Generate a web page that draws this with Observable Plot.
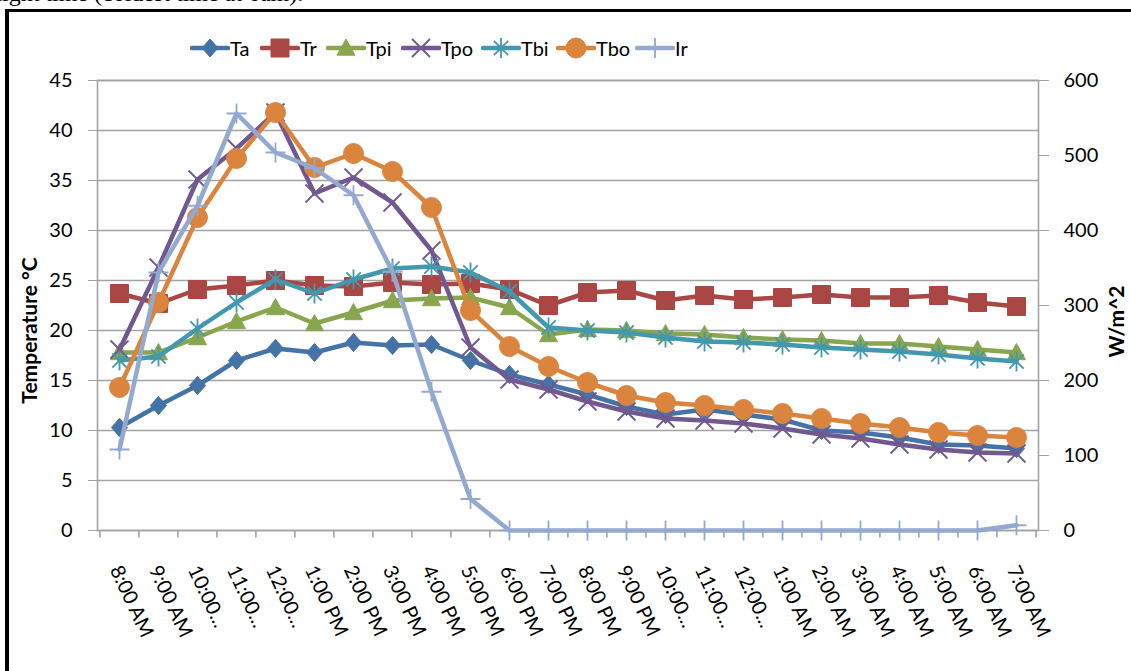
<!DOCTYPE html>
<html><head><meta charset="utf-8">
<script src="https://cdn.jsdelivr.net/npm/d3@7"></script>
<script src="https://cdn.jsdelivr.net/npm/@observablehq/plot@0.6"></script>
<style>
html,body{margin:0;padding:0;background:#fff;}
body{width:1131px;height:671px;overflow:hidden;position:relative;font-family:Lato,"Open Sans",sans-serif;}
#note{position:absolute;left:-10px;top:-20px;font-family:"Liberation Serif",serif;font-size:24px;white-space:nowrap;color:#000;}
#box{position:absolute;left:5px;top:9px;width:1140px;height:700px;border-left:4px solid #000;border-top:3px solid #000;box-sizing:border-box;}
#chart{position:absolute;left:0;top:0;}
#legend{position:absolute;left:0;top:35px;width:1131px;height:26px;font-size:20px;color:#000;}
.item{position:absolute;top:0;display:flex;align-items:center;height:26px;}
.item svg{display:block;}
</style>
</head><body>
<div id="note">night time (coldest time at 6am).</div>
<div id="box"></div>
<div id="chart"></div>
<div id="legend"></div>
<script>
// ---- data ----
const categories = ["8:00 AM","9:00 AM","10:00 AM","11:00 AM","12:00 PM","1:00 PM","2:00 PM","3:00 PM","4:00 PM","5:00 PM","6:00 PM","7:00 PM","8:00 PM","9:00 PM","10:00 PM","11:00 PM","12:00 AM","1:00 AM","2:00 AM","3:00 AM","4:00 AM","5:00 AM","6:00 AM","7:00 AM"];
const tickLabels = ["8:00 AM","9:00 AM","10:00...","11:00...","12:00...","1:00 PM","2:00 PM","3:00 PM","4:00 PM","5:00 PM","6:00 PM","7:00 PM","8:00 PM","9:00 PM","10:00...","11:00...","12:00...","1:00 AM","2:00 AM","3:00 AM","4:00 AM","5:00 AM","6:00 AM","7:00 AM"];
const Ta  = [10.3,12.5,14.5,17.0,18.2,17.8,18.8,18.5,18.6,17.0,15.6,14.6,13.6,12.4,11.6,12.1,11.6,11.1,10.0,9.8,9.3,8.6,8.5,8.2];
const Tr  = [23.7,22.7,24.1,24.5,25.0,24.5,24.4,24.8,24.6,24.7,24.1,22.5,23.8,24.0,23.0,23.5,23.1,23.3,23.6,23.3,23.3,23.5,22.8,22.4];
const Tpi = [17.8,17.8,19.3,20.9,22.3,20.7,21.8,23.0,23.2,23.3,22.3,19.6,20.1,20.0,19.7,19.6,19.3,19.1,19.0,18.7,18.7,18.4,18.1,17.8];
const Tpo = [18.1,26.3,35.1,38.2,41.8,33.7,35.3,32.8,28.0,18.3,15.1,14.1,12.9,11.9,11.2,11.0,10.7,10.2,9.6,9.2,8.6,8.1,7.8,7.7];
const Tbi = [17.0,17.4,20.2,22.8,25.1,23.7,25.1,26.2,26.4,25.8,23.9,20.3,20.0,19.8,19.3,18.9,18.8,18.6,18.3,18.1,17.9,17.6,17.2,16.9];
const Tbo = [14.3,22.8,31.3,37.2,41.8,36.3,37.7,35.9,32.3,22.0,18.4,16.4,14.8,13.5,12.8,12.5,12.1,11.7,11.2,10.7,10.3,9.8,9.5,9.3];
const Ir  = [108,344,433,556,504,483,447,345,185,42,0,0,0,0,0,0,0,0,0,0,0,0,0,7];
const tempTicks = [0,5,10,15,20,25,30,35,40,45];
const irTicks = [0,100,200,300,400,500,600];
const leftTitle = "Temperature °C";
const rightTitle = "W/m^2";

// ---- symbols ----
const rOf = s => Math.sqrt(s / Math.PI);
const symDiamond = {draw(c,s){const r=rOf(s);c.moveTo(0,-r);c.lineTo(r*0.9,0);c.lineTo(0,r);c.lineTo(-r*0.9,0);c.closePath();}};
const symSquare = {draw(c,s){const r=rOf(s);c.rect(-r,-r,2*r,2*r);}};
const symTriangle = {draw(c,s){const r=rOf(s);c.moveTo(0,-r);c.lineTo(r,r*0.8);c.lineTo(-r,r*0.8);c.closePath();}};
const symTimes = {draw(c,s){const r=rOf(s);c.moveTo(-r,-r);c.lineTo(r,r);c.moveTo(r,-r);c.lineTo(-r,r);}};
const symAsterisk = {draw(c,s){const r=rOf(s),a=r*0.8;c.moveTo(-a,-a);c.lineTo(a,a);c.moveTo(a,-a);c.lineTo(-a,a);c.moveTo(0,-r*1.1);c.lineTo(0,r*1.1);}};
const symCircle = {draw(c,s){const r=rOf(s);c.moveTo(r,0);c.arc(0,0,r,0,2*Math.PI);}};
const symPlus = {draw(c,s){const r=rOf(s);c.moveTo(-r,0);c.lineTo(r,0);c.moveTo(0,-r);c.lineTo(0,r);}};

const k = 45 / 600; // W/m^2 -> temperature axis units
const series = [
  {name:"Ta",  values:Ta,  color:"#4572A7", symbol:symDiamond,  filled:true,  r:9},
  {name:"Tr",  values:Tr,  color:"#AA4643", symbol:symSquare,   filled:true,  r:9},
  {name:"Tpi", values:Tpi, color:"#89A54E", symbol:symTriangle, filled:true,  r:9},
  {name:"Tpo", values:Tpo, color:"#71588F", symbol:symTimes,    filled:false, r:9},
  {name:"Tbi", values:Tbi, color:"#4198AF", symbol:symAsterisk, filled:false, r:9},
  {name:"Tbo", values:Tbo, color:"#DB843D", symbol:symCircle,   filled:true,  r:10},
  {name:"Ir",  values:Ir,  color:"#93A9CF", symbol:symPlus,     filled:false, r:10, scale:k}
];
const legendLeft = [190, 260, 326, 401, 481, 556, 635];

const W = 1131, H = 671, mL = 97, mR = 93, mT = 80, mB = 141;
const step = (W - mL - mR) / categories.length;

const marks = [
  Plot.gridY(tempTicks, {stroke:"#a3a3a3", strokeOpacity:1, strokeWidth:1.6}),
  Plot.frame({stroke:"#a3a3a3", strokeWidth:1.6}),
  Plot.axisY(tempTicks, {anchor:"left", tickSize:9, tickPadding:16, stroke:"#a3a3a3", fill:"#000", fontSize:20, label:null}),
  Plot.axisY(irTicks.map(v => v * k), {anchor:"right", tickSize:10, tickPadding:15, stroke:"#a3a3a3", fill:"#000", fontSize:20, label:null, tickFormat: d => String(Math.round(d / k))}),
  Plot.ruleX(categories, {y1:0, y2:-0.75, dx:-step/2, stroke:"#a3a3a3", strokeWidth:1.6}),
  Plot.ruleX(categories.slice(-1), {y1:0, y2:-0.75, dx:step/2, stroke:"#a3a3a3", strokeWidth:1.6}),
  Plot.text(categories, {x: d => d, text: (d, i) => tickLabels[i], frameAnchor:"bottom", dx:-10, dy:39, rotate:65, textAnchor:"start", lineAnchor:"bottom", fontSize:20, fill:"#000"}),
  Plot.text([leftTitle], {frameAnchor:"left", textAnchor:"middle", dx:-67, dy:25, rotate:-90, fontSize:21, fontWeight:"bold", fill:"#000"}),
  Plot.text([rightTitle], {frameAnchor:"right", textAnchor:"middle", dx:79, dy:16, rotate:-90, fontSize:21, fontWeight:"bold", fill:"#000"})
];

for (const s of series) {
  const rows = s.values.map((v, i) => ({time: categories[i], y: v * (s.scale || 1)}));
  marks.push(Plot.line(rows, {x:"time", y:"y", stroke:s.color, strokeWidth:4.5, strokeLinejoin:"round", strokeLinecap:"round"}));
  marks.push(Plot.dot(rows, {x:"time", y:"y", symbol:() => s.symbol, r:s.r,
    fill: s.filled ? s.color : "none", stroke:s.color, strokeWidth: s.filled ? 1 : 1.8}));
}

const chart = Plot.plot({
  width: W, height: H,
  marginLeft: mL, marginRight: mR, marginTop: mT, marginBottom: mB,
  style: {fontFamily: "Lato, 'Open Sans', sans-serif", fontSize: "20px", background: "transparent", color: "#000", overflow: "visible"},
  x: {type: "point", domain: categories, padding: 0.5, align: 0.5, axis: null},
  y: {domain: [0, 45], axis: null},
  symbol: {type: "identity"},
  marks
});
document.getElementById("chart").appendChild(chart);

// ---- legend ----
const legend = d3.select("#legend");
series.forEach((s, i) => {
  const item = legend.append("div").attr("class", "item").style("left", legendLeft[i] + "px");
  const svg = item.append("svg").attr("width", 40).attr("height", 26);
  svg.append("line").attr("x1", 2).attr("x2", 38).attr("y1", 13).attr("y2", 13)
    .attr("stroke", s.color).attr("stroke-width", 4.5).attr("stroke-linecap", "round");
  svg.append("path").attr("transform", "translate(20,13)")
    .attr("d", d3.symbol(s.symbol, Math.PI * s.r * s.r)())
    .attr("fill", s.filled ? s.color : "none").attr("stroke", s.color).attr("stroke-width", s.filled ? 1 : 1.8);
  item.append("span").text(s.name);
});
</script>
</body></html>
